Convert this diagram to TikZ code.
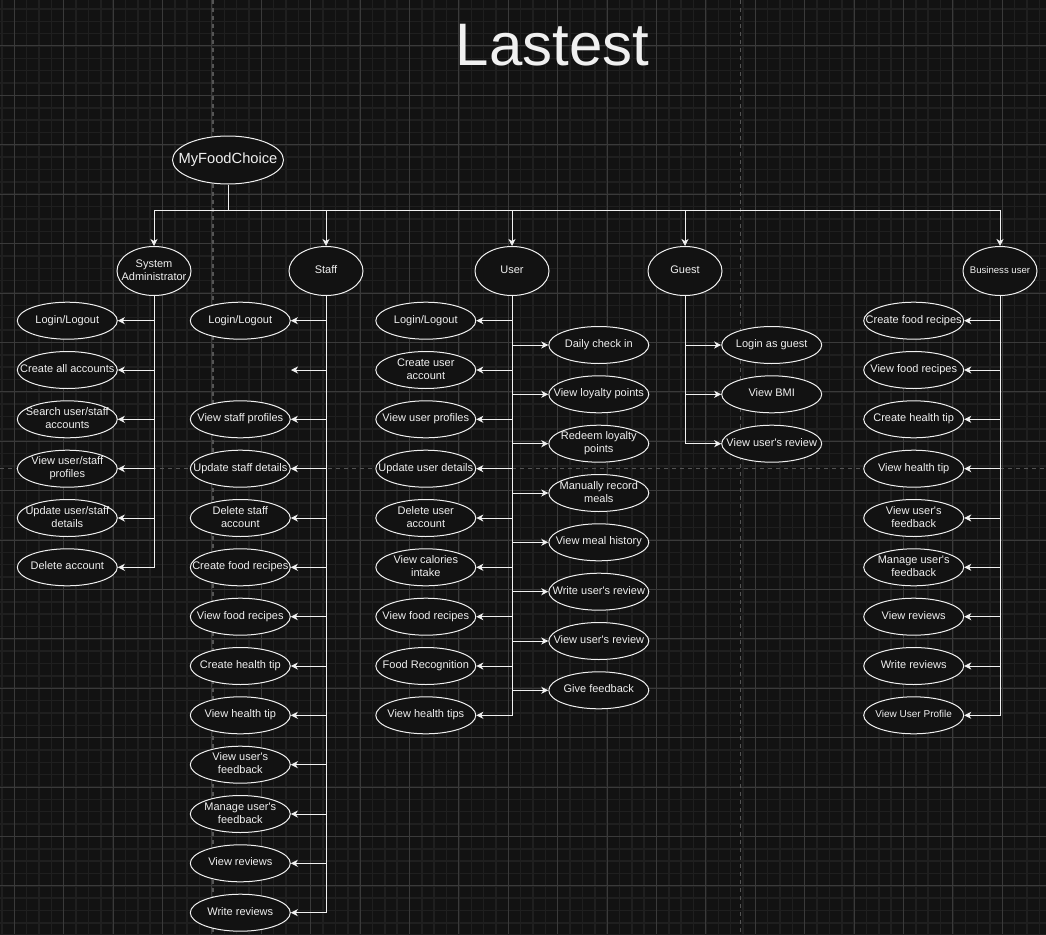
\documentclass[tikz,border=0pt]{standalone}
\usepackage{fontspec}
\setmainfont{Liberation Sans}
\usetikzlibrary{shapes.geometric,arrows.meta}
\definecolor{bg}{HTML}{121212}
\definecolor{ink}{HTML}{F0F0F0}
\definecolor{minorgrid}{HTML}{1F1F1F}
\definecolor{majorgrid}{HTML}{3A3A3A}
\definecolor{pagebreak}{HTML}{555555}
%% label that does not widen its ellipse
\newcommand{\uctext}[1]{\makebox[0pt]{\raisebox{-1.2pt}{\begin{tabular}{@{}c@{}}#1\end{tabular}}}}
\begin{document}
\begin{tikzpicture}[x=1pt,y=-1pt,
        usecase/.style={draw=ink,fill=bg,ellipse,line width=1pt,minimum width=100pt,minimum height=37pt,inner sep=0pt,text=ink,font=\fontsize{11}{13}\selectfont},
        actor/.style={usecase,minimum width=74pt,minimum height=49pt},
        link/.style={draw=ink,line width=1pt,-{Stealth[length=7pt,width=7pt,inset=2pt]}},
        wire/.style={draw=ink,line width=1pt}]
        %% Canvas
        \fill[bg] (0,0) rectangle (1046,934);
        \useasboundingbox (0,0) rectangle (1046,934);
        \foreach \i in {0,...,84} \draw[minorgrid,line width=1.5pt] ({1.95+12.35*\i},0) -- ++(0,934);
        \foreach \j in {0,...,75} \draw[minorgrid,line width=1.5pt] (0,{8.95+12.35*\j}) -- ++(1046,0);
        \foreach \i in {0,...,21} \draw[majorgrid,line width=1pt] ({14.3+49.4*\i},0) -- ++(0,934);
        \foreach \j in {0,...,17} \draw[majorgrid,line width=1pt] (0,{46+49.4*\j}) -- ++(1046,0);
        \draw[pagebreak,line width=1.5pt,dash pattern=on 4pt off 4pt] (213,0) -- ++(0,934);
        \draw[pagebreak,line width=1.5pt,dash pattern=on 4pt off 4pt] (740.7,0) -- ++(0,934);
        \draw[pagebreak,line width=1.5pt,dash pattern=on 4pt off 4pt] (0,468.7) -- ++(1046,0);
        %% Title
        \node[text=ink,font=\fontsize{60}{60}\selectfont,anchor=base] (title) at (552.5,66) {Lastest};
        %% Root and actors
        \node[actor,minimum width=111pt,minimum height=48pt,font=\fontsize{14.7}{16}\selectfont] (root) at (228,160) {\uctext{MyFoodChoice}};
        \node[actor] (sa) at (154,271) {\uctext{System\\Administrator}};
        \node[actor] (staff) at (326,271) {\uctext{Staff}};
        \node[actor] (user) at (512,271) {\uctext{User}};
        \node[actor] (guest) at (685,271) {\uctext{Guest}};
        \node[actor,font=\fontsize{9.6}{11}\selectfont] (biz) at (1000,271) {\uctext{Business user}};
        \coordinate (bus) at (228,210);
        \draw[wire] (root.south) -- (bus);
        \draw[link] (bus) -| (sa.north);
        \draw[link] (bus) -| (staff.north);
        \draw[link] (bus) -| (user.north);
        \draw[link] (bus) -| (guest.north);
        \draw[link] (bus) -| (biz.north);
        %% System Administrator
        \node[usecase] (sa1) at (67.3,320.7) {\uctext{Login/Logout}};
        \node[usecase] (sa2) at (67.3,370) {\uctext{Create all accounts}};
        \node[usecase] (sa3) at (67.3,419.3) {\uctext{Search user/staff\\accounts}};
        \node[usecase] (sa4) at (67.3,468.7) {\uctext{View user/staff\\profiles}};
        \node[usecase] (sa5) at (67.3,518) {\uctext{Update user/staff\\details}};
        \node[usecase] (sa6) at (67.3,567.3) {\uctext{Delete account}};
        \draw[link] (sa.south) |- (sa1.east);
        \draw[link] (sa.south) |- (sa2.east);
        \draw[link] (sa.south) |- (sa3.east);
        \draw[link] (sa.south) |- (sa4.east);
        \draw[link] (sa.south) |- (sa5.east);
        \draw[link] (sa.south) |- (sa6.east);
        %% Staff
        \node[usecase] (st1) at (240.3,320.7) {\uctext{Login/Logout}};
        \coordinate (st2) at (291,370);
        \node[usecase] (st3) at (240.3,419.3) {\uctext{View staff profiles}};
        \node[usecase] (st4) at (240.3,468.7) {\uctext{Update staff details}};
        \node[usecase] (st5) at (240.3,518) {\uctext{Delete staff\\account}};
        \node[usecase] (st6) at (240.3,567.3) {\uctext{Create food recipes}};
        \node[usecase] (st7) at (240.3,616.7) {\uctext{View food recipes}};
        \node[usecase] (st8) at (240.3,666) {\uctext{Create health tip}};
        \node[usecase] (st9) at (240.3,715.3) {\uctext{View health tip}};
        \node[usecase] (st10) at (240.3,764.7) {\uctext{View user\textquotesingle s\\feedback}};
        \node[usecase] (st11) at (240.3,814) {\uctext{Manage user\textquotesingle s\\feedback}};
        \node[usecase] (st12) at (240.3,863.3) {\uctext{View reviews}};
        \node[usecase] (st13) at (240.3,912.7) {\uctext{Write reviews}};
        \draw[link] (staff.south) |- (st1.east);
        \draw[link] (staff.south) |- (st2);
        \draw[link] (staff.south) |- (st3.east);
        \draw[link] (staff.south) |- (st4.east);
        \draw[link] (staff.south) |- (st5.east);
        \draw[link] (staff.south) |- (st6.east);
        \draw[link] (staff.south) |- (st7.east);
        \draw[link] (staff.south) |- (st8.east);
        \draw[link] (staff.south) |- (st9.east);
        \draw[link] (staff.south) |- (st10.east);
        \draw[link] (staff.south) |- (st11.east);
        \draw[link] (staff.south) |- (st12.east);
        \draw[link] (staff.south) |- (st13.east);
        %% User, left side
        \node[usecase] (ul1) at (425.8,320.7) {\uctext{Login/Logout}};
        \node[usecase] (ul2) at (425.8,370) {\uctext{Create user\\account}};
        \node[usecase] (ul3) at (425.8,419.3) {\uctext{View user profiles}};
        \node[usecase] (ul4) at (425.8,468.7) {\uctext{Update user details}};
        \node[usecase] (ul5) at (425.8,518) {\uctext{Delete user\\account}};
        \node[usecase] (ul6) at (425.8,567.3) {\uctext{View calories\\intake}};
        \node[usecase] (ul7) at (425.8,616.7) {\uctext{View food recipes}};
        \node[usecase] (ul8) at (425.8,666) {\uctext{Food Recognition}};
        \node[usecase] (ul9) at (425.8,715.3) {\uctext{View health tips}};
        \draw[link] (user.south) |- (ul1.east);
        \draw[link] (user.south) |- (ul2.east);
        \draw[link] (user.south) |- (ul3.east);
        \draw[link] (user.south) |- (ul4.east);
        \draw[link] (user.south) |- (ul5.east);
        \draw[link] (user.south) |- (ul6.east);
        \draw[link] (user.south) |- (ul7.east);
        \draw[link] (user.south) |- (ul8.east);
        \draw[link] (user.south) |- (ul9.east);
        %% User, right side
        \node[usecase] (ur1) at (598.8,345) {\uctext{Daily check in}};
        \node[usecase] (ur2) at (598.8,394.3) {\uctext{View loyalty points}};
        \node[usecase] (ur3) at (598.8,443.7) {\uctext{Redeem loyalty\\points}};
        \node[usecase] (ur4) at (598.8,493) {\uctext{Manually record\\meals}};
        \node[usecase] (ur5) at (598.8,542.3) {\uctext{View meal history}};
        \node[usecase] (ur6) at (598.8,591.7) {\uctext{Write user\textquotesingle s review}};
        \node[usecase] (ur7) at (598.8,641) {\uctext{View user\textquotesingle s review}};
        \node[usecase] (ur8) at (598.8,690.3) {\uctext{Give feedback}};
        \draw[link] (user.south) |- (ur1.west);
        \draw[link] (user.south) |- (ur2.west);
        \draw[link] (user.south) |- (ur3.west);
        \draw[link] (user.south) |- (ur4.west);
        \draw[link] (user.south) |- (ur5.west);
        \draw[link] (user.south) |- (ur6.west);
        \draw[link] (user.south) |- (ur7.west);
        \draw[link] (user.south) |- (ur8.west);
        %% Guest
        \node[usecase] (gu1) at (771.7,345) {\uctext{Login as guest}};
        \node[usecase] (gu2) at (771.7,394.3) {\uctext{View BMI}};
        \node[usecase] (gu3) at (771.7,443.7) {\uctext{View user\textquotesingle s review}};
        \draw[link] (guest.south) |- (gu1.west);
        \draw[link] (guest.south) |- (gu2.west);
        \draw[link] (guest.south) |- (gu3.west);
        %% Business user
        \node[usecase] (bz1) at (913.7,320.7) {\uctext{Create food recipes}};
        \node[usecase] (bz2) at (913.7,370) {\uctext{View food recipes}};
        \node[usecase] (bz3) at (913.7,419.3) {\uctext{Create health tip}};
        \node[usecase] (bz4) at (913.7,468.7) {\uctext{View health tip}};
        \node[usecase] (bz5) at (913.7,518) {\uctext{View user\textquotesingle s\\feedback}};
        \node[usecase] (bz6) at (913.7,567.3) {\uctext{Manage user\textquotesingle s\\feedback}};
        \node[usecase] (bz7) at (913.7,616.7) {\uctext{View reviews}};
        \node[usecase] (bz8) at (913.7,666) {\uctext{Write reviews}};
        \node[usecase,font=\fontsize{10}{12}\selectfont] (bz9) at (913.7,715.3) {\uctext{View User Profile}};
        \draw[link] (biz.south) |- (bz1.east);
        \draw[link] (biz.south) |- (bz2.east);
        \draw[link] (biz.south) |- (bz3.east);
        \draw[link] (biz.south) |- (bz4.east);
        \draw[link] (biz.south) |- (bz5.east);
        \draw[link] (biz.south) |- (bz6.east);
        \draw[link] (biz.south) |- (bz7.east);
        \draw[link] (biz.south) |- (bz8.east);
        \draw[link] (biz.south) |- (bz9.east);
\end{tikzpicture}
\end{document}
